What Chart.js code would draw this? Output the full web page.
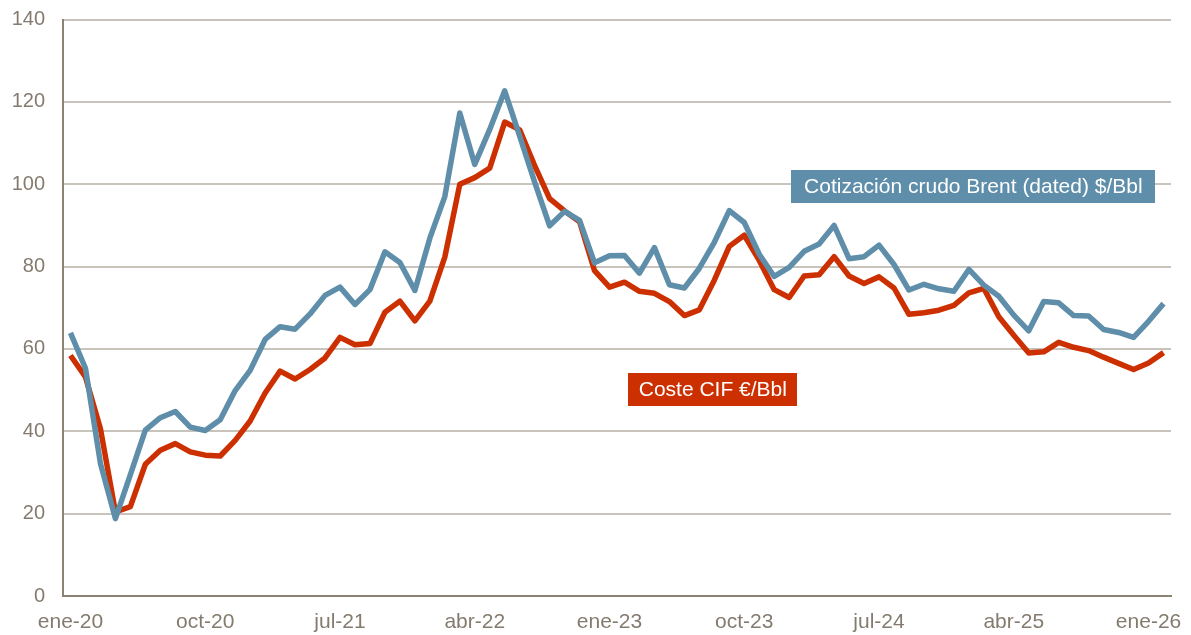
<!DOCTYPE html>
<html>
<head>
<meta charset="utf-8">
<script src="https://cdn.jsdelivr.net/npm/chart.js@4/dist/chart.umd.min.js"></script>
<style>
  html, body { margin: 0; padding: 0; background: #ffffff; }
  #wrap { width: 1191px; height: 635px; }
</style>
</head>
<body>
<div id="wrap"><canvas id="c" width="1191" height="635"></canvas></div>
<script>
// Month labels (ene-20 .. feb-26)
const months = ['ene','feb','mar','abr','may','jun','jul','ago','sep','oct','nov','dic'];
const categories = [];
for (let y = 20; y <= 26; y++) {
  for (let m = 0; m < 12; m++) {
    if (y === 26 && m > 1) break;
    categories.push(months[m] + '-' + y);
  }
}
const tickLabels = ['ene-20','oct-20','jul-21','abr-22','ene-23','oct-23','jul-24','abr-25','ene-26'];

const brentLabel = 'Cotización crudo Brent (dated) $/Bbl';
const brent = [
  63.9, 55.3, 32.2, 18.8, 29.5, 40.3, 43.3, 44.8, 41.0, 40.2, 42.8, 49.9,
  54.8, 62.3, 65.4, 64.8, 68.5, 73.0, 75.0, 70.8, 74.4, 83.6, 81.0, 74.2,
  86.9, 97.0, 117.3, 104.8, 113.3, 122.7, 111.7, 100.5, 89.9, 93.4, 91.2, 80.9,
  82.6, 82.7, 78.4, 84.6, 75.6, 74.8, 79.6, 85.9, 93.6, 90.7, 83.0, 77.6,
  79.8, 83.7, 85.5, 90.0, 81.9, 82.4, 85.2, 80.5, 74.3, 75.7, 74.6, 74.0,
  79.3, 75.5, 72.8, 68.2, 64.4, 71.5, 71.2, 68.1, 68.0, 64.7, 64.0, 62.8,
  66.7, 71.0
];

const cifLabel = 'Coste CIF €/Bbl';
const cif = [
  58.4, 53.2, 40.6, 20.4, 21.7, 32.0, 35.4, 37.0, 35.0, 34.2, 34.0, 37.8,
  42.5, 49.3, 54.6, 52.7, 55.0, 57.8, 62.8, 61.0, 61.3, 68.9, 71.6, 66.8,
  71.6, 82.3, 100.0, 101.6, 103.9, 115.1, 113.2, 104.5, 96.5, 93.5, 90.9, 79.0,
  75.0, 76.2, 74.0, 73.5, 71.5, 68.1, 69.5, 76.7, 84.9, 87.6, 81.5, 74.4,
  72.5, 77.7, 78.0, 82.4, 77.7, 75.9, 77.5, 74.8, 68.4, 68.8, 69.4, 70.6,
  73.6, 74.7, 67.8, 63.3, 59.0, 59.3, 61.6, 60.4, 59.6, 58.0, 56.5, 55.0,
  56.6, 59.1
];

const BLUE = '#5E8EA9';
const RED = '#CC3000';
const FONT = '"Liberation Sans", Arial, sans-serif';

// Inline plugin: series name boxes (anchored in data coordinates)
const seriesBoxes = {
  id: 'seriesBoxes',
  afterDatasetsDraw(chart, args, opts) {
    const ctx = chart.ctx;
    const xs = chart.scales.x, ys = chart.scales.y;
    (opts.boxes || []).forEach(b => {
      const cx = xs.getPixelForValue(b.xIndex);
      const cy = ys.getPixelForValue(b.yValue);
      ctx.save();
      ctx.font = '21px ' + FONT;
      const w = b.width, h = b.height;
      ctx.fillStyle = b.bg;
      ctx.fillRect(Math.round(cx - w / 2), Math.round(cy - h / 2), w, h);
      ctx.fillStyle = '#ffffff';
      ctx.textAlign = 'center';
      ctx.textBaseline = 'middle';
      ctx.fillText(b.text, cx, cy + 1);
      ctx.restore();
    });
  }
};

new Chart(document.getElementById('c'), {
  type: 'line',
  data: {
    labels: categories,
    datasets: [
      {
        label: brentLabel, data: brent, borderColor: BLUE, backgroundColor: BLUE,
        borderWidth: 5.5, pointRadius: 0, tension: 0, borderJoinStyle: 'round', fill: false
      },
      {
        label: cifLabel, data: cif, borderColor: RED, backgroundColor: RED,
        borderWidth: 5.5, pointRadius: 0, tension: 0, borderJoinStyle: 'round', fill: false
      }
    ]
  },
  options: {
    responsive: false,
    animation: false,
    events: [],
    layout: { padding: { left: 11, right: 20, top: 19.5, bottom: 0 } },
    plugins: {
      legend: { display: false },
      tooltip: { enabled: false },
      seriesBoxes: {
        boxes: [
          { text: brentLabel, xIndex: 60.3, yValue: 99.5, width: 364, height: 33, bg: BLUE },
          { text: cifLabel, xIndex: 42.9, yValue: 50.1, width: 169, height: 33, bg: RED }
        ]
      }
    },
    scales: {
      x: {
        type: 'category',
        offset: true,
        afterFit: (s) => { s.height = 39; s.paddingLeft = 0; s.paddingRight = 0; },
        grid: { display: false, drawTicks: false },
        border: { display: true, color: '#8C8375', width: 2 },
        ticks: {
          autoSkip: false, maxRotation: 0, minRotation: 0, padding: 14,
          color: '#847B6E', font: { family: FONT, size: 21 },
          callback: function (v, i) {
            const l = this.getLabelForValue(v);
            return tickLabels.includes(l) ? l : null;
          }
        }
      },
      y: {
        min: 0, max: 140,
        afterFit: (s) => { s.width = 52; s.paddingTop = 0; s.paddingBottom = 0; },
        grid: { color: '#C9C4BB', lineWidth: 2, drawTicks: false },
        border: { display: true, color: '#8C8375', width: 2 },
        ticks: {
          stepSize: 20, padding: 18,
          color: '#847B6E', font: { family: FONT, size: 20 }
        }
      }
    }
  },
  plugins: [seriesBoxes]
});
</script>
</body>
</html>
